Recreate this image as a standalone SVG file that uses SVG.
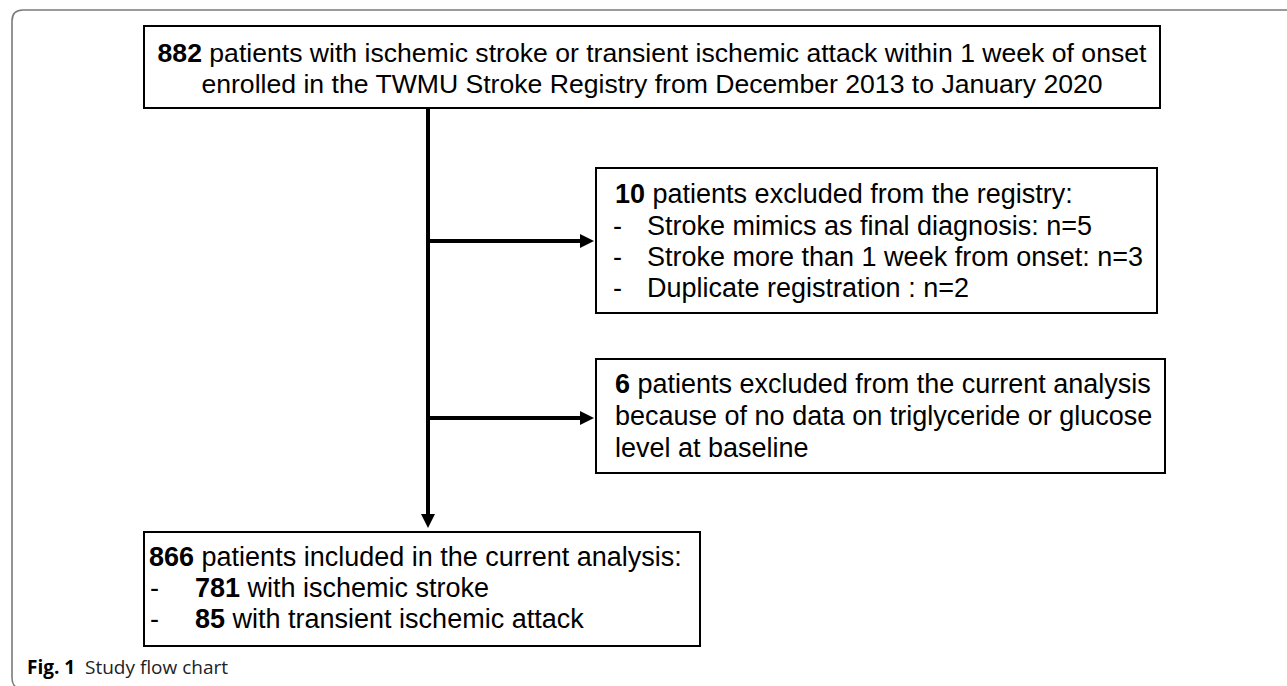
<svg xmlns="http://www.w3.org/2000/svg" width="1287" height="686" viewBox="0 0 1287 686">
<defs>
<style>
.box{fill:#fff;stroke:#000;stroke-width:2}
.t{font-family:"Liberation Sans",Arial,sans-serif;font-size:27px;fill:#000}
.h{font-size:26.6px}
.b{font-weight:bold}
.conn{stroke:#000;stroke-width:4;fill:none}
.cap{font-family:"Open Sans","Noto Sans",sans-serif;font-size:19px;fill:#222}
</style>
<marker id="ah" viewBox="0 0 10 10" refX="5.7" refY="5" markerWidth="3.5" markerHeight="3.5" orient="auto" markerUnits="strokeWidth">
<path d="M0,0 L10,5 L0,10 z" fill="#000"/>
</marker>
</defs>
<rect width="1287" height="686" fill="#fff"/>
<path d="M1290,10 L23,10 Q12,10 12,21 L12,678 Q12,685 17,688" fill="none" stroke="#7a7a7a" stroke-width="1.6"/>
<g id="connectors">
<line class="conn" x1="428" y1="108" x2="428" y2="522" marker-end="url(#ah)"/>
<line class="conn" x1="428" y1="241" x2="588" y2="241" marker-end="url(#ah)"/>
<line class="conn" x1="428" y1="418" x2="588" y2="418" marker-end="url(#ah)"/>
</g>
<g id="n1">
<rect class="box" x="144" y="26" width="1016" height="82"/>
<text class="t h" x="652" y="62" text-anchor="middle"><tspan class="b">882</tspan> patients with ischemic stroke or transient ischemic attack within 1 week of onset</text>
<text class="t h" x="652" y="93" text-anchor="middle">enrolled in the TWMU Stroke Registry from December 2013 to January 2020</text>
</g>
<g id="n2">
<rect class="box" x="596" y="168" width="561" height="145"/>
<text class="t" x="615" y="203"><tspan class="b">10</tspan> patients excluded from the registry:</text>
<text class="t" x="613" y="235">-</text><text class="t" x="647" y="235">Stroke mimics as final diagnosis: n=5</text>
<text class="t" x="613" y="266">-</text><text class="t" x="647" y="266">Stroke more than 1 week from onset: n=3</text>
<text class="t" x="613" y="297">-</text><text class="t" x="647" y="297">Duplicate registration : n=2</text>
</g>
<g id="n3">
<rect class="box" x="596" y="359" width="569" height="114"/>
<text class="t" x="615" y="393"><tspan class="b">6</tspan> patients excluded from the current analysis</text>
<text class="t" x="615" y="425">because of no data on triglyceride or glucose</text>
<text class="t" x="615" y="457">level at baseline</text>
</g>
<g id="n4">
<rect class="box" x="144" y="532" width="556" height="114"/>
<text class="t" x="149" y="566"><tspan class="b">866</tspan> patients included in the current analysis:</text>
<text class="t" x="150" y="597">-</text><text class="t" x="195" y="597"><tspan class="b">781</tspan> with ischemic stroke</text>
<text class="t" x="150" y="628">-</text><text class="t" x="195" y="628"><tspan class="b">85</tspan> with transient ischemic attack</text>
</g>
<g id="caption">
<text class="cap" x="27" y="674"><tspan font-weight="bold" fill="#000">Fig. 1</tspan><tspan x="85">Study flow chart</tspan></text>
</g>
</svg>
